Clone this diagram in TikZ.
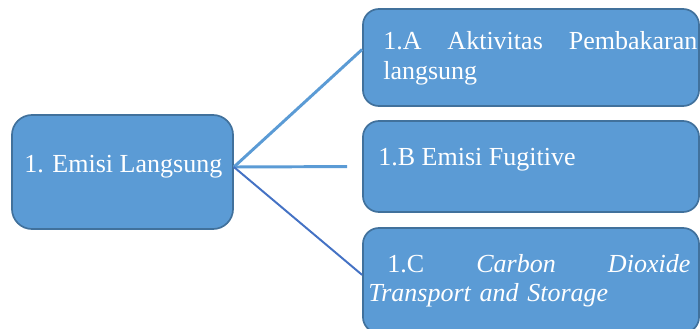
\documentclass[tikz,border=0pt]{standalone}
\usepackage{fontspec}
\setmainfont{Liberation Serif}
\definecolor{boxfill}{RGB}{91,155,213}
\definecolor{boxline}{RGB}{65,113,156}
\definecolor{linelight}{RGB}{91,155,213}
\definecolor{linedark}{RGB}{68,114,196}
\begin{document}
\begin{tikzpicture}[x=0.025cm,y=-0.025cm]
        \tikzstyle{category}=[rounded corners=0.5cm,draw=boxline,line width=1.2pt,fill=boxfill]
        \tikzstyle{subcategory}=[category,rounded corners=0.4cm,minimum width=8.4cm]
        \tikzstyle{caption}=[text=white,font=\fontsize{18.5}{21.3}\selectfont,inner sep=0pt]
        \tikzstyle{branch}=[draw,line width=2.1pt,linelight]
        \useasboundingbox (0,0) rectangle (700,329);
        \begin{scope}
           \node [category,minimum width=5.525cm,minimum height=2.85cm] (emisi) at (122.5,172) {};
           \node [subcategory,minimum height=2.425cm] (akt) at (531,57.5) {};
           \node [subcategory,minimum height=2.275cm] (fug) at (531,166.5) {};
           \node [subcategory,minimum height=2.625cm] (ccs) at (531,280.5) {};
           \node [caption,anchor=base west] (emisi-text) at (24,173) {1. Emisi Langsung};
           \node [caption,anchor=base west,text width=7.85cm,align=left] (akt-text) at (383,50)
              {\hbox to 7.85cm{1.A\hfill Aktivitas\hfill Pembakaran}\\langsung};
           \node [caption,anchor=base west] (fug-text) at (378,165) {1.B Emisi Fugitive};
           \node [caption,anchor=base west,text width=8.05cm,align=left] (ccs-text) at (368,272)
              {\hbox to 8.05cm{\hspace*{0.475cm}1.C\hfill\textit{Carbon}\hfill\textit{Dioxide}}\\\textit{Transport and Storage}};
           \coordinate (hub) at ([yshift=0.125cm]emisi.east);
           \path[branch] (hub) -- ([yshift=0.2cm]akt.west);
           \path[branch,shorten >=0.375cm] (hub) -- (fug.west);
           \path[branch,draw=linedark,line width=1.4pt] (hub) -- ([yshift=0.14cm]ccs.west);
        \end{scope}
\end{tikzpicture}
\end{document}
